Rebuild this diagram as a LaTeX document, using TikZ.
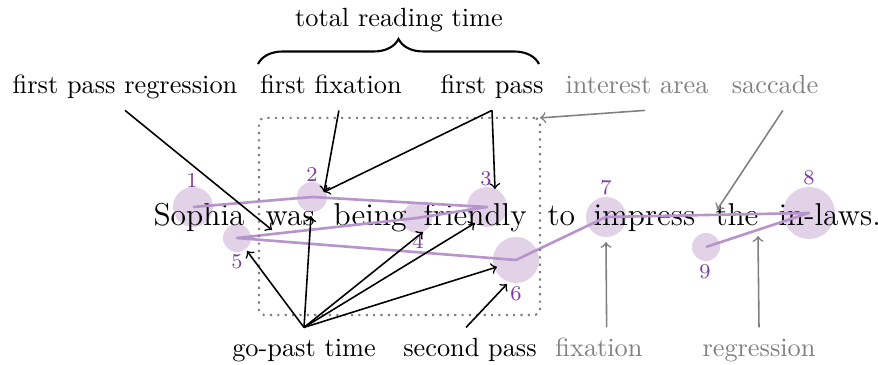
\documentclass[tikz,border=0pt]{standalone}
\usepackage{amsmath, amssymb}
\usepackage{xcolor}
\usetikzlibrary{decorations.pathreplacing}

\definecolor{fixfill}{RGB}{225,210,232}
\definecolor{scanpath}{RGB}{184,148,204}
\definecolor{fixnum}{RGB}{125,60,155}
\definecolor{annogray}{RGB}{128,128,128}

\begin{document}
\begin{tikzpicture}[x=0.38pt,y=0.38pt,yscale=-1,xscale=1,
        lab/.style={anchor=base, text height=7.7pt, text depth=2.7pt},
        graylab/.style={lab, text=annogray},
        word/.style={anchor=base west, inner sep=0pt, font=\large},
        num/.style={text=fixnum, font=\footnotesize, inner sep=0pt},
        arr/.style={->, semithick},
        grayarr/.style={->, semithick, draw=annogray}]
        \useasboundingbox (0,0) rectangle (878,365);

        %Shape: Circles [fixations, radius ~ duration]
        \foreach \i/\x/\y/\r in {1/193/207/20, 2/312/197/15, 3/487/207/20, 4/417/218/15, 5/237/238/14, 6/516/260/23, 7/606/217/20, 8/809/213/26, 9/706/247/14}{
            \coordinate (f\i) at (\x,\y);
            \fill [fixfill] (f\i) circle [radius=\r];
        }

        % Text Node: the sentence, one node per word
        \foreach \w/\x [count=\i] in {Sophia/153, was/265, being/333, friendly/423, to/547, impress/593, the/715, in-laws./778}
            \node [word] (w\i) at (\x,226) {\w};

        %Shape: Polyline [scanpath]
        \draw [scanpath, line width=1pt, line join=round] (f1) -- (f2) -- (f3) -- (f4) -- (f5) -- (f6) -- (f7) -- (f8) -- (f9);

        % Text Node: fixation numbers
        \foreach \i/\x/\y in {1/192/181, 2/312/175, 3/486/179, 4/418/241, 5/237/262, 6/516/294, 7/606/188, 8/809/178, 9/705/272}
            \node [num] (n\i) at (\x,\y) {\i};

        %Shape: Rectangle [interest area]
        \node [draw=annogray, dotted, thick, rounded corners=2pt, inner sep=0pt, outer sep=0pt, minimum width=106.8pt, minimum height=74.9pt] (area) at (399.5,216.5) {};

        % Text Node
        \node [lab] (tot) at (399,27) {total reading time};
        \node [lab] (fpr) at (125,94) {first pass regression};
        \node [lab] (ffix) at (331,94) {first fixation};
        \node [lab] (fp) at (492,94) {first pass};
        \node [graylab] (ia) at (637,94) {interest area};
        \node [graylab] (sac) at (775,94) {saccade};
        \node [lab] (gp) at (304,357) {go-past time};
        \node [lab] (sp) at (470,357) {second pass};
        \node [graylab] (fixl) at (599,357) {fixation};
        \node [graylab] (reg) at (759,357) {regression};

        %Shape: Brace
        \draw [thick, decorate, decoration={brace, amplitude=9.5pt}] (258,64) -- (539,64);

        % arrow ends
        \coordinate (tfpr) at (272,230);
        \coordinate (tffix) at (324,192);
        \coordinate (tfp) at (495,189);
        \coordinate (tsp) at (507,284);
        \coordinate (tsac) at (717,210);
        \coordinate (tfix) at (606,242);
        \coordinate (treg) at (758,236);

        \draw [arr] (fpr.south) -- (tfpr);
        \draw [arr] ([xshift=3pt]ffix.south) -- (tffix);
        \draw [arr] (fp.south) -- (tffix);
        \draw [arr] (fp.south) -- (tfp);
        \foreach \x/\y in {247/251, 311/216, 423/232, 475/223, 497/267}
            \draw [arr] (gp.north) -- (\x,\y);
        \draw [arr] ([xshift=-1.5pt]sp.north) -- (tsp);

        \draw [grayarr] ([xshift=3pt]ia.south) -- (area.north east);
        \draw [grayarr] ([xshift=3pt]sac.south) -- (tsac);
        \draw [grayarr] ([xshift=2.9pt]fixl.north) -- (tfix);
        \draw [grayarr] (reg.north) -- (treg);

\end{tikzpicture}
\end{document}
